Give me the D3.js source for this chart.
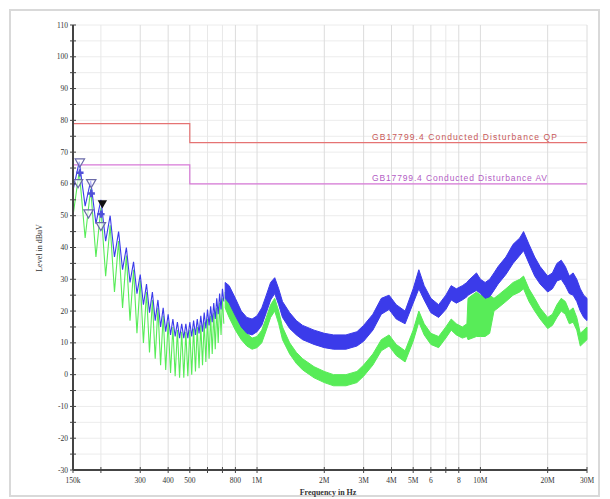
<!DOCTYPE html>
<html>
<head>
<meta charset="utf-8">
<script src="https://cdn.jsdelivr.net/npm/d3@7"></script>
<style>
  body { margin: 0; background: #fff; }
  svg { display: block; }
</style>
</head>
<body>
<svg id="emc-svg" width="610" height="499"></svg>
<script>
// ---- data ----
const xTicks = [150e3, 200e3, 300e3, 400e3, 500e3, 600e3, 700e3, 800e3, 1e6, 2e6, 3e6, 4e6, 5e6, 6e6, 7e6, 8e6, 10e6, 20e6, 30e6]
const xTickLabels = ['150k', '', '300', '400', '500', '', '', '800', '1M', '2M', '3M', '4M', '5M', '6', '', '8', '10M', '20M', '30M']
const yTicks = [110, 100, 90, 80, 70, 60, 50, 40, 30, 20, 10, 0, -10, -20, -30]

// limit lines (freq Hz, dBuV)
const qpLimit = [[150e3, 79], [500e3, 79], [500e3, 73], [30e6, 73]]
const avLimit = [[150e3, 66], [500e3, 66], [500e3, 60], [30e6, 60]]
const qpName = 'GB17799.4 Conducted Disturbance QP'
const avName = 'GB17799.4 Conducted Disturbance AV'

// low frequency comb (kHz)
const combStart = [150, 58, 50] // freq, blue, green
const combPeakFreq = [160, 180, 200, 220, 240, 260, 280, 300, 320, 340, 360, 380, 400, 420, 440, 460, 480, 500, 520, 540, 560, 580, 600, 620, 640, 660, 680, 700]
const combValleyFreq = [170, 190, 210, 230, 250, 270, 290, 310, 330, 350, 370, 390, 410, 430, 450, 470, 490, 510, 530, 550, 570, 590, 610, 630, 650, 670, 690, 710]
const blueCombPeak = [67, 61, 55, 50, 45, 40, 35.5, 31.5, 28.5, 26, 23.5, 21, 19, 17.5, 16.5, 16, 16, 16.5, 17, 17.5, 18.5, 19.5, 20.5, 21.5, 22.5, 24, 25.5, 27]
const blueCombValley = [53, 47.5, 42, 37, 33, 29, 25.5, 22, 19.5, 17, 15, 13.5, 12.5, 12, 11.5, 11.5, 11.5, 12, 12.5, 13, 13.5, 14.5, 15.5, 16.5, 17.5, 19, 20.5, 23]
const greenCombPeak = [64, 58.5, 52.5, 47, 42, 37.5, 33, 29.5, 26, 23.5, 21, 18.5, 16.5, 15, 14, 13.5, 13.5, 14, 14.5, 15, 15.5, 16.5, 17.5, 18.5, 19.5, 21, 22.5, 24]
const greenCombValley = [43, 37, 31, 26, 21, 17, 13, 10, 7, 5, 3, 1.5, 0.5, -0.5, -1, -1, -0.5, 0, 1, 2, 3, 4, 5, 6.5, 8, 10, 12.5, 16]

// noise band above the comb (MHz)
const bandFreq = [0.72, 0.75, 0.8, 0.85, 0.9, 0.95, 1.0, 1.05, 1.1, 1.15, 1.2, 1.25, 1.3, 1.4, 1.5, 1.6, 1.8, 2.0, 2.2, 2.5, 2.8, 3.0, 3.3, 3.6, 3.9, 4.2, 4.6, 5.0, 5.3, 5.6, 6.0, 6.5, 7.0, 7.4, 7.8, 8.3, 8.7, 8.8, 9.6, 10, 10.5, 11, 11.5, 12, 13, 14, 15, 15.6, 16.5, 17.5, 18.5, 20, 21, 22, 23, 24, 25, 26, 27, 28, 29, 30]
const blueHi = [29, 28, 24, 20, 18, 17.5, 18.5, 21, 25, 29, 30.5, 27, 23, 19.5, 17, 15.5, 14, 13, 12.5, 12.5, 13.5, 15.5, 19, 24, 25, 22, 20, 27, 33, 28, 24, 22, 25, 28, 27, 28, 29, 29.5, 32, 30, 29, 30, 32, 34, 37, 41, 43, 45, 41, 37, 34, 31, 32, 35, 36, 34, 31, 32, 30, 27, 25, 24]
const blueLo = [24, 22.5, 18.5, 15, 13, 12.5, 13.5, 15.5, 19.5, 23.5, 25.5, 22, 18, 14.5, 12.5, 11, 9.5, 8.5, 8, 8, 9, 10.5, 14, 19, 20.5, 17.5, 16, 22.5, 27, 23.5, 19.5, 18, 20.5, 23.5, 22.5, 23.5, 24.5, 25, 26.5, 25.5, 24, 24.5, 26.5, 28.5, 31.5, 35, 37.5, 39, 35, 31, 28.5, 26, 27, 29.5, 30, 28, 25.5, 25, 23, 20, 18, 17]
const greenHi = [26, 25, 21, 16, 13, 11.5, 12, 14, 18, 22, 24, 20, 15, 10, 7, 5, 2.5, 1, 0, 0, 1, 3, 6.5, 11, 12.5, 9.5, 7.5, 14, 20, 16, 13, 12, 15, 17.5, 16, 15, 16, 24, 26, 25, 26, 25, 24, 25, 27, 29, 30, 31, 27, 24, 21, 18, 19, 22, 24, 23, 20, 21, 18, 13, 14, 15]
const greenLo = [21, 18, 14, 11, 9, 8, 8.5, 10, 14, 18, 20, 16, 11, 6.5, 3.5, 1.5, -1, -2.5, -3.5, -3.5, -2.5, -0.5, 3, 7.5, 9, 6, 4, 10.5, 16.5, 12.5, 9.5, 8.5, 11.5, 14, 12.5, 11.5, 12, 11, 12, 12, 12, 13, 20, 21, 23, 25, 26, 27, 23, 20, 17.5, 14.5, 15.5, 18, 20, 19, 16, 16.5, 14, 9, 10, 11]

// markers (freq Hz, dBuV)
const openMarkers = [[161e3, 67], [158e3, 60.5], [181e3, 60.5], [176e3, 51], [200e3, 47]]
const filledMarkers = [[203e3, 54]]
const crossMarkers = [[161e3, 63.5], [181e3, 57], [200e3, 50.5]]

// ---- drawing ----
const svg = d3.select('#emc-svg')

const x = d3.scaleLog().domain([150e3, 30e6]).range([73, 587])
const y = d3.scaleLinear().domain([-30, 110]).range([470, 25])

const blueColor = '#3b3bea'
const greenColor = '#58ec58'

// outer frame
svg.append('rect')
  .attr('x', 10).attr('y', 10)
  .attr('width', 589).attr('height', 486)
  .attr('fill', '#fff')
  .attr('stroke', '#d9d9d9')
  .attr('stroke-width', 2)

// grid
const yMinor = d3.range(-30, 111, 5)
svg.append('g').selectAll('line')
  .data(yMinor)
  .enter().append('line')
  .attr('x1', x.range()[0]).attr('x2', x.range()[1])
  .attr('y1', d => y(d)).attr('y2', d => y(d))
  .attr('stroke', '#ececec')

svg.append('g').selectAll('line')
  .data(xTicks)
  .enter().append('line')
  .attr('x1', d => x(d)).attr('x2', d => x(d))
  .attr('y1', y(110)).attr('y2', y(-30))
  .attr('stroke', (d, i) => xTickLabels[i] ? '#dcdcdc' : '#e8e8e8')

// limit lines
const limitLine = d3.line().x(d => x(d[0])).y(d => y(d[1]))
svg.append('path').datum(qpLimit)
  .attr('d', limitLine).attr('fill', 'none')
  .attr('stroke', '#e57373').attr('stroke-width', 1.2)
svg.append('path').datum(avLimit)
  .attr('d', limitLine).attr('fill', 'none')
  .attr('stroke', '#d77ad7').attr('stroke-width', 1.2)

svg.append('text')
  .attr('x', 372).attr('y', y(73) - 3)
  .attr('font-family', 'Liberation Sans, Arial, sans-serif')
  .attr('font-size', 8.5)
  .attr('textLength', 185).attr('lengthAdjust', 'spacing')
  .attr('fill', '#c85a5a')
  .text(qpName)
svg.append('text')
  .attr('x', 372).attr('y', y(60) - 3)
  .attr('font-family', 'Liberation Sans, Arial, sans-serif')
  .attr('font-size', 8.5)
  .attr('textLength', 175).attr('lengthAdjust', 'spacing')
  .attr('fill', '#b25cc4')
  .text(avName)

// traces: comb points then noise band
function combPoints(peaks, valleys, start) {
  const pts = [[start[0] * 1e3, start[1]]]
  combPeakFreq.forEach((f, i) => {
    pts.push([f * 1e3, peaks[i]])
    pts.push([combValleyFreq[i] * 1e3, valleys[i]])
  })
  return pts
}

function drawTrace(color, peaks, valleys, start, hi, lo) {
  const g = svg.append('g')
  g.append('path')
    .datum(combPoints(peaks, valleys, start))
    .attr('d', d3.line().x(d => x(d[0])).y(d => y(d[1])))
    .attr('fill', 'none')
    .attr('stroke', color)
    .attr('stroke-width', 1.1)

  const band = bandFreq.map((f, i) => ({ f: f * 1e6, hi: hi[i], lo: lo[i] }))
  g.append('path')
    .datum(band)
    .attr('d', d3.area().x(d => x(d.f)).y0(d => y(d.lo)).y1(d => y(d.hi)))
    .attr('fill', color)
    .attr('stroke', color)
    .attr('stroke-width', 1)
}

drawTrace(greenColor, greenCombPeak, greenCombValley, [combStart[0], combStart[2]], greenHi, greenLo)
drawTrace(blueColor, blueCombPeak, blueCombValley, [combStart[0], combStart[1]], blueHi, blueLo)

// markers
const tri = d3.symbol().type(d3.symbolTriangle).size(38)
svg.append('g').selectAll('path')
  .data(openMarkers)
  .enter().append('path')
  .attr('d', tri)
  .attr('transform', d => `translate(${x(d[0])},${y(d[1])}) rotate(180)`)
  .attr('fill', '#fff')
  .attr('fill-opacity', 0.6)
  .attr('stroke', '#6a6aa8')
  .attr('stroke-width', 1.2)
svg.append('g').selectAll('path')
  .data(filledMarkers)
  .enter().append('path')
  .attr('d', tri)
  .attr('transform', d => `translate(${x(d[0])},${y(d[1])}) rotate(180)`)
  .attr('fill', '#111')
svg.append('g').selectAll('path')
  .data(crossMarkers)
  .enter().append('path')
  .attr('d', d3.symbol().type(d3.symbolCross).size(30))
  .attr('transform', d => `translate(${x(d[0])},${y(d[1])})`)
  .attr('fill', '#5050d8')

// axes
const axisColor = '#444'
svg.append('line')
  .attr('x1', x.range()[0]).attr('x2', x.range()[0])
  .attr('y1', y(110)).attr('y2', y(-30))
  .attr('stroke', axisColor).attr('stroke-width', 2)
svg.append('line')
  .attr('x1', x.range()[0]).attr('x2', x.range()[1])
  .attr('y1', y(-30)).attr('y2', y(-30))
  .attr('stroke', axisColor).attr('stroke-width', 2)

svg.append('g').selectAll('line')
  .data(yMinor)
  .enter().append('line')
  .attr('x1', x.range()[0] - 3).attr('x2', x.range()[0] + 3)
  .attr('y1', d => y(d)).attr('y2', d => y(d))
  .attr('stroke', axisColor)

svg.append('g').selectAll('line')
  .data(xTicks)
  .enter().append('line')
  .attr('x1', d => x(d)).attr('x2', d => x(d))
  .attr('y1', y(-30) - 3).attr('y2', y(-30) + 3)
  .attr('stroke', axisColor)

svg.append('g').selectAll('text')
  .data(yTicks)
  .enter().append('text')
  .attr('x', x.range()[0] - 5)
  .attr('y', d => y(d) + 2.5)
  .attr('text-anchor', 'end')
  .attr('font-family', 'Liberation Serif, serif')
  .attr('font-size', 7.5)
  .attr('fill', '#333')
  .text(d => d)

svg.append('g').selectAll('text')
  .data(xTicks)
  .enter().append('text')
  .attr('x', d => x(d))
  .attr('y', 483)
  .attr('text-anchor', 'middle')
  .attr('font-family', 'Liberation Serif, serif')
  .attr('font-size', 7.5)
  .attr('fill', '#333')
  .text((d, i) => xTickLabels[i])

svg.append('text')
  .attr('x', 328).attr('y', 495)
  .attr('text-anchor', 'middle')
  .attr('font-family', 'Liberation Serif, serif')
  .attr('font-size', 8)
  .attr('font-weight', 'bold')
  .attr('fill', '#333')
  .text('Frequency in Hz')

svg.append('text')
  .attr('transform', 'translate(42,248) rotate(-90)')
  .attr('text-anchor', 'middle')
  .attr('font-family', 'Liberation Serif, serif')
  .attr('font-size', 8)
  .attr('fill', '#333')
  .text('Level in dBuV')
</script>
</body>
</html>
